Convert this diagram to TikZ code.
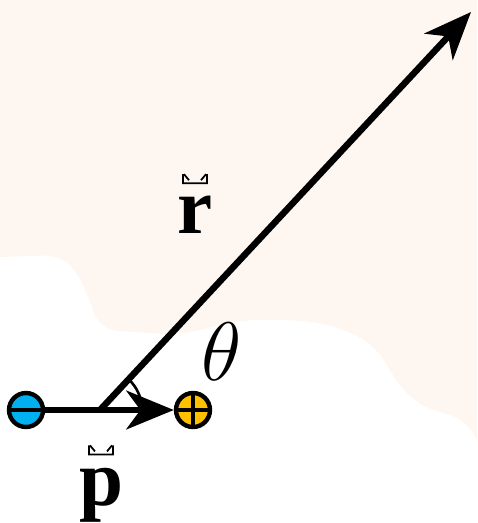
\documentclass[tikz,border=0pt]{standalone}
\usepackage{fontspec}
\setmainfont{Liberation Serif}
\definecolor{peach}{RGB}{254,247,241}
\definecolor{negblue}{RGB}{0,176,240}
\definecolor{posgold}{RGB}{255,192,0}
\usetikzlibrary{arrows.meta,calc}

\begin{document}
\begin{tikzpicture}[x=0.02cm, y=-0.02cm,
      vec/.style={-{Stealth[length=27pt,width=22pt,inset=8pt]}, line width=3.7pt},
      charge/.style={circle, draw, line width=2.5pt, minimum size=0.68cm, inner sep=0pt},
      lbl/.style={font=\fontsize{45}{50}\selectfont\bfseries, inner sep=0pt},
      accentline/.style={line width=1pt}
    ]
    \useasboundingbox (0,0) rectangle (477,523);
    % background
    \fill[peach] (0,0) -- (477,0) -- (477,440) [rounded corners=10pt] -- (467,420)
      -- (417,405) -- (393,377) -- (377,347) -- (340,327) -- (300,320) -- (240,320)
      -- (180,335) -- (100,330) -- (90,300) -- (75,268) -- (60,255) [sharp corners] -- (0,257) -- cycle;

    \node[charge, fill=negblue, path picture={
        \draw[line width=2.5pt] (path picture bounding box.west) -- (path picture bounding box.east);}]
      (neg) at (26,410) {};
    \node[charge, fill=posgold, path picture={
        \draw[line width=2.5pt] (path picture bounding box.west) -- (path picture bounding box.east)
          (path picture bounding box.north) -- (path picture bounding box.south);}]
      (pos) at (193,410) {};

    \coordinate (o) at (100,410);
    \coordinate (tip) at (471,12);

    \draw[line width=1.5pt] (o) ++(0:0.84cm) arc[start angle=0, end angle=47, radius=0.84cm];
    \draw[vec] (neg) -- (pos);
    \draw[vec] (o) -- (tip);

    \node[lbl, anchor=base] (r) at (195,234) {r};
    \node[lbl, anchor=base] (p) at (101,505) {p};
    \node[font=\fontsize{24.88}{30}\selectfont, inner sep=0pt] (theta) at (222,352) {\scalebox{1.9}{$\theta$}};

    \draw[accentline] ($(r.north)+(-12,-22)$) -- ++(0,9) -- ++(24,0) -- ++(0,-9)
      ($(r.north)+(-11,-22)$) -- ++(5,6) ($(r.north)+(11,-22)$) -- ++(-5,6);
    \draw[accentline] ($(p.north)+(-12,-22)$) -- ++(0,9) -- ++(24,0) -- ++(0,-9)
      ($(p.north)+(-11,-22)$) -- ++(5,6) ($(p.north)+(11,-22)$) -- ++(-5,6);
  \end{tikzpicture}
\end{document}
